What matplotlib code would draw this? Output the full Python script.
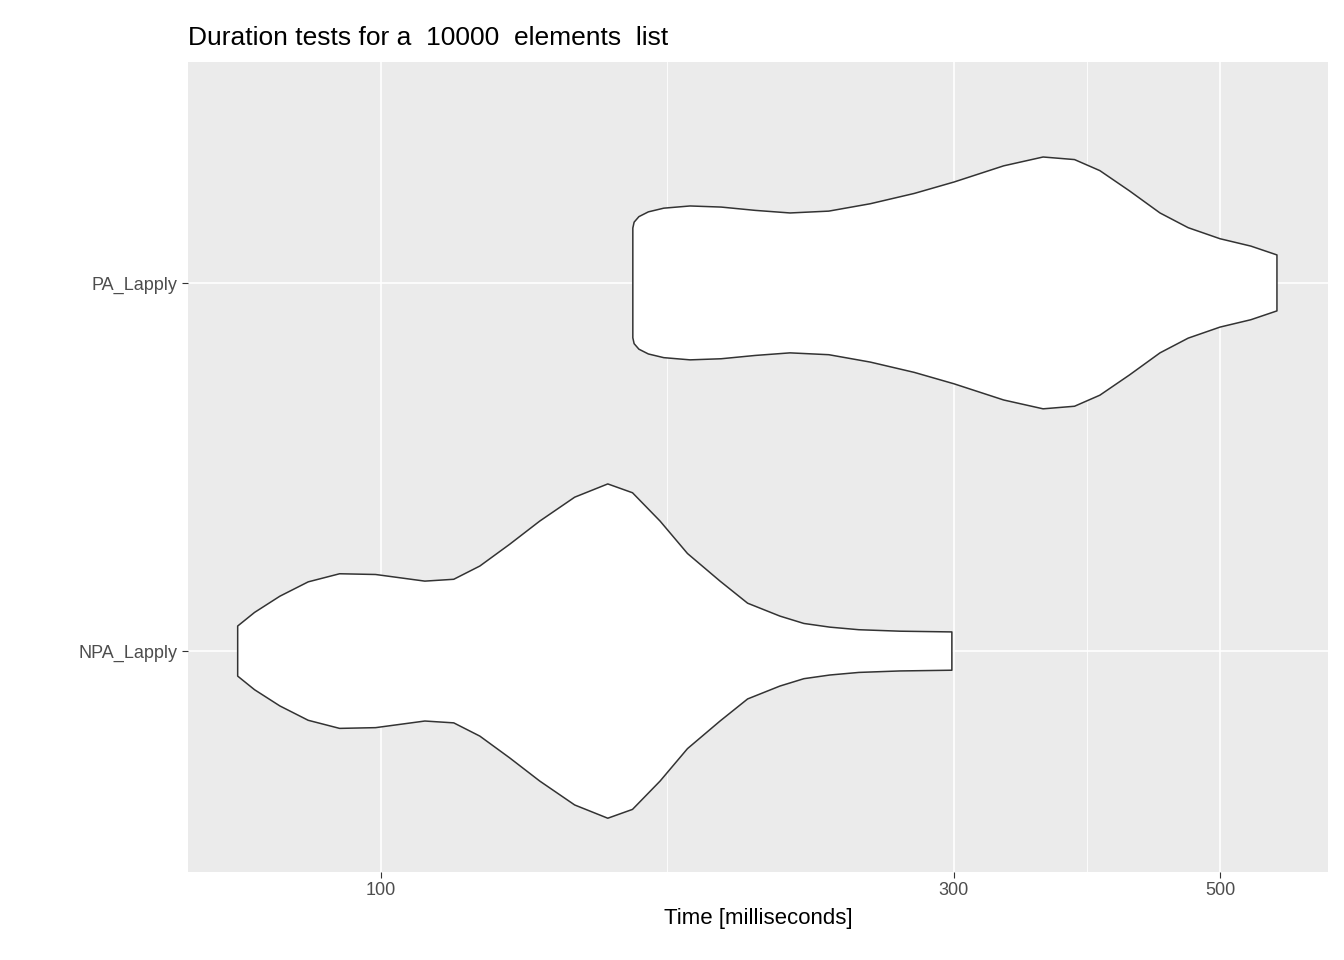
import numpy as np
import matplotlib
matplotlib.use("Agg")
import matplotlib.pyplot as plt
from matplotlib.ticker import FixedLocator, NullFormatter

plt.rcParams["font.family"] = ["Liberation Sans", "DejaVu Sans"]

categories = ["NPA_Lapply", "PA_Lapply"]

# violin outlines: time [ms] and half-width (category units)
pa_time = [162.1, 162.5, 164.0, 167.0, 172.0, 180.9, 192.0, 205.0, 219.1, 236.0,
           255.5, 278.0, 300.0, 330.0, 355.9, 378.0, 396.8, 420.0, 445.3, 470.0,
           499.6, 530.0, 557.2]
pa_width = [0.149, 0.165, 0.180, 0.193, 0.203, 0.209, 0.206, 0.197, 0.190, 0.195,
            0.215, 0.243, 0.274, 0.318, 0.342, 0.335, 0.305, 0.250, 0.190, 0.150,
            0.120, 0.100, 0.076]
npa_time = [76.0, 78.5, 82.4, 87.0, 92.4, 99.0, 108.8, 115.0, 120.9, 128.0,
            135.6, 145.0, 154.5, 162.0, 170.8, 180.0, 191.6, 202.0, 214.9, 225.0,
            236.5, 250.0, 270.4, 298.8]
npa_width = [0.068, 0.105, 0.149, 0.188, 0.210, 0.208, 0.190, 0.195, 0.231, 0.290,
             0.353, 0.418, 0.454, 0.430, 0.353, 0.265, 0.190, 0.130, 0.095, 0.075,
             0.065, 0.058, 0.054, 0.052]

fig = plt.figure(figsize=(13.44, 9.6), dpi=100)
ax = fig.add_axes([0.1399, 0.0917, 0.8482, 0.8437])
ax.set_facecolor("#EBEBEB")

for pos, t, w in [(1, npa_time, npa_width), (2, pa_time, pa_width)]:
    t = np.array(t)
    w = np.array(w)
    xs = np.concatenate([t, t[::-1], t[:1]])
    ys = np.concatenate([pos + w, (pos - w)[::-1], [pos + w[0]]])
    ax.fill(xs, ys, facecolor="white", edgecolor="#333333", linewidth=1.1,
            joinstyle="round", zorder=3)

ax.set_xscale("log")
ax.set_xlim(69.1, 614.5)
ax.set_ylim(0.4, 2.6)
ax.xaxis.set_major_locator(FixedLocator([100, 300, 500]))
ax.xaxis.set_minor_locator(FixedLocator([173.2, 387.3]))
ax.xaxis.set_minor_formatter(NullFormatter())
ax.set_xticklabels(["100", "300", "500"])
ax.set_yticks([1, 2])
ax.set_yticklabels(categories)
ax.grid(which="major", color="white", linewidth=1.2, zorder=0)
ax.grid(which="minor", color="white", linewidth=0.6, zorder=0)
ax.set_axisbelow(True)
for s in ax.spines.values():
    s.set_visible(False)
ax.tick_params(which="major", length=4, color="#333333", labelsize=13, labelcolor="#4D4D4D")
ax.tick_params(which="minor", length=0)
ax.set_xlabel("Time [milliseconds]", fontsize=16, labelpad=6)
ax.set_title("Duration tests for a  10000  elements  list", loc="left", fontsize=19, pad=12)

fig.savefig("out.png", dpi=100)
